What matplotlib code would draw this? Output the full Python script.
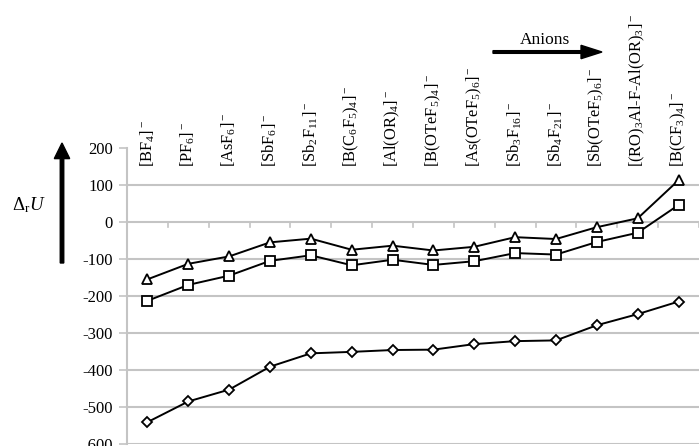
import numpy as np
import matplotlib.pyplot as plt

plt.rcParams['font.family'] = 'Liberation Serif'
plt.rcParams['mathtext.fontset'] = 'custom'
plt.rcParams['mathtext.rm'] = 'Liberation Serif'
plt.rcParams['mathtext.it'] = 'Liberation Serif:italic'

# Anions, ordered left to right
anions = [r'$\mathregular{[BF_4]^-}$', r'$\mathregular{[PF_6]^-}$',
          r'$\mathregular{[AsF_6]^-}$', r'$\mathregular{[SbF_6]^-}$',
          r'$\mathregular{[Sb_2F_{11}]^-}$', r'$\mathregular{[B(C_6F_5)_4]^-}$',
          r'$\mathregular{[Al(OR)_4]^-}$', r'$\mathregular{[B(OTeF_5)_4]^-}$',
          r'$\mathregular{[As(OTeF_5)_6]^-}$', r'$\mathregular{[Sb_3F_{16}]^-}$',
          r'$\mathregular{[Sb_4F_{21}]^-}$', r'$\mathregular{[Sb(OTeF_5)_6]^-}$',
          r'$\mathregular{[(RO)_3Al\text{-}F\text{-}Al(OR)_3]^-}$',
          r'$\mathregular{[B(CF_3)_4]^-}$']

tri = [-155, -113, -93, -55, -45, -75, -64, -77, -67, -41, -46, -14, 10, 113]
sq = [-213, -170, -145, -105, -90, -117, -102, -116, -106, -84, -88, -54, -29, 46]
dia = [-541, -485, -453, -391, -355, -351, -346, -345, -330, -322, -320, -279, -249, -215]

x = np.arange(len(anions))

fig = plt.figure(figsize=(6.99, 4.46), dpi=100)
ax = fig.add_axes([127 / 699, 2 / 446, 1 - 127 / 699, 296 / 446])

grid_c = '#c4c4c4'
for yv in range(-600, 101, 100):
    ax.axhline(yv, color=grid_c, lw=1.5, zorder=0)

# small boundary ticks on the zero line
for b in np.arange(len(anions) + 1) - 0.5:
    ax.plot([b, b], [0, -13], color=grid_c, lw=1.2, zorder=0)

mk = dict(color='black', lw=1.4, mfc='white', mec='black', mew=1.3, clip_on=False)
ax.plot(x, tri, marker='^', ms=7.5, **mk)
ax.plot(x, sq, marker='s', ms=6.5, **mk)
ax.plot(x, dia, marker='D', ms=5, **mk)

ax.set_xlim(-0.5, len(anions) - 0.5)
ax.set_ylim(-600, 200)
ax.set_yticks(range(-600, 201, 100))
ax.set_yticklabels([str(v) for v in range(-600, 201, 100)])
ax.set_xticks([])
ax.tick_params(axis='y', length=6, width=1.2, color=grid_c, pad=4, labelsize=12)
for s in ['top', 'right', 'bottom']:
    ax.spines[s].set_visible(False)
ax.spines['left'].set_color(grid_c)
ax.spines['left'].set_linewidth(1.5)

for xi, name in zip(x, anions):
    ax.text(xi, 148, name, rotation=90, ha='center', va='bottom',
            fontsize=11.8, clip_on=False)

# direction arrows
fig.patches.append(plt.matplotlib.patches.FancyArrow(
    62 / 699, 1 - 263 / 446, 0, (263 - 143) / 446 - 0.035, width=0.005,
    head_width=0.022, head_length=0.035, color='black', transform=fig.transFigure))
fig.text(29 / 699, 1 - 205 / 446, r'$\Delta_{\mathregular{r}}U$', fontsize=13.5,
         ha='center', va='center')

fig.patches.append(plt.matplotlib.patches.FancyArrow(
    493 / 699, 1 - 52 / 446, (602 - 493) / 699 - 0.03, 0, width=0.006,
    head_width=0.03, head_length=0.03, color='black', transform=fig.transFigure))
fig.text(545 / 699, 1 - 40 / 446, 'Anions', fontsize=12.5, ha='center', va='center')

fig.savefig('out.png', dpi=100)
